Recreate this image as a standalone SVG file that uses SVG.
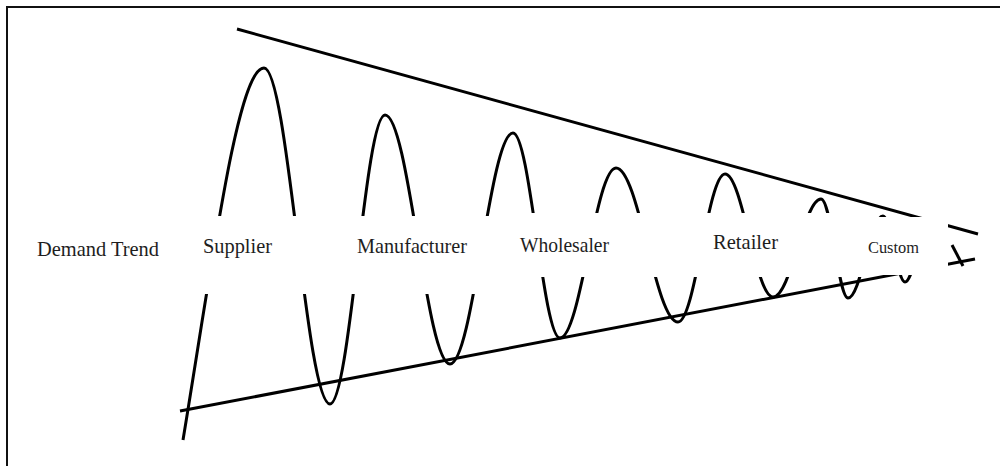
<svg xmlns="http://www.w3.org/2000/svg" width="1000" height="466" viewBox="0 0 1000 466">
  <style>
    .ln { fill: none; stroke: #000; stroke-width: 3; stroke-linecap: butt; stroke-linejoin: round; }
    .frame { fill: none; stroke: #111; stroke-width: 2; }
    .bg { fill: #fff; stroke: none; }
    .lbl { font-family: "Liberation Serif", "Times New Roman", serif; font-size: 22px; fill: #1e1e1e; }
    .small { font-size: 17px; }
  </style>
  <rect x="0" y="0" width="1000" height="466" fill="#fff"/>
  <path class="frame" d="M7,466 V7 H1000"/>

  <g id="connectors">
    <line class="ln" x1="237" y1="29" x2="978" y2="234"/>
    <line class="ln" x1="180" y1="411" x2="975" y2="259"/>
    <path class="ln" d="M183,440 C213,258 238,68 264,68
      C288,68 306,404 330,404
      C350,404 365,115 385,115
      C408.7,115 426.3,364 450,364
      C472.9,364 490.1,133 513,133
      C530.1,133 542.9,338 560,338
      C580.4,338 595.6,168 616,168
      C638.6,168 655.4,322 678,322
      C695.1,322 707.9,174 725,174
      C742.5,174 755.5,297 773,297
      C791,297 803.9,199 821,199
      C831.2,199 838.3,298 848,298
      C860.7,298 870.3,216 883,216
      C891,216 897,282 905,282
      C912.3,282 917.7,240 925,240"/>
    <line class="ln" x1="952" y1="245" x2="963" y2="266"/>
  </g>

  <g id="label-band">
    <rect class="bg" x="150" y="216" width="350" height="78"/>
    <rect class="bg" x="500" y="213" width="362" height="64"/>
    <rect class="bg" x="860" y="217" width="88" height="58"/>
  </g>

  <g id="demand-trend">
    <text class="lbl" x="37" y="256" textLength="122" lengthAdjust="spacingAndGlyphs">Demand Trend</text>
  </g>
  <g id="supplier">
    <text class="lbl" x="203" y="253" textLength="69" lengthAdjust="spacingAndGlyphs">Supplier</text>
  </g>
  <g id="manufacturer">
    <text class="lbl" x="357" y="253" textLength="110" lengthAdjust="spacingAndGlyphs">Manufacturer</text>
  </g>
  <g id="wholesaler">
    <text class="lbl" x="520" y="252" textLength="89" lengthAdjust="spacingAndGlyphs">Wholesaler</text>
  </g>
  <g id="retailer">
    <text class="lbl" x="713" y="249" textLength="65" lengthAdjust="spacingAndGlyphs">Retailer</text>
  </g>
  <g id="custom">
    <text class="lbl small" x="868" y="253" textLength="51" lengthAdjust="spacingAndGlyphs">Custom</text>
  </g>
</svg>
